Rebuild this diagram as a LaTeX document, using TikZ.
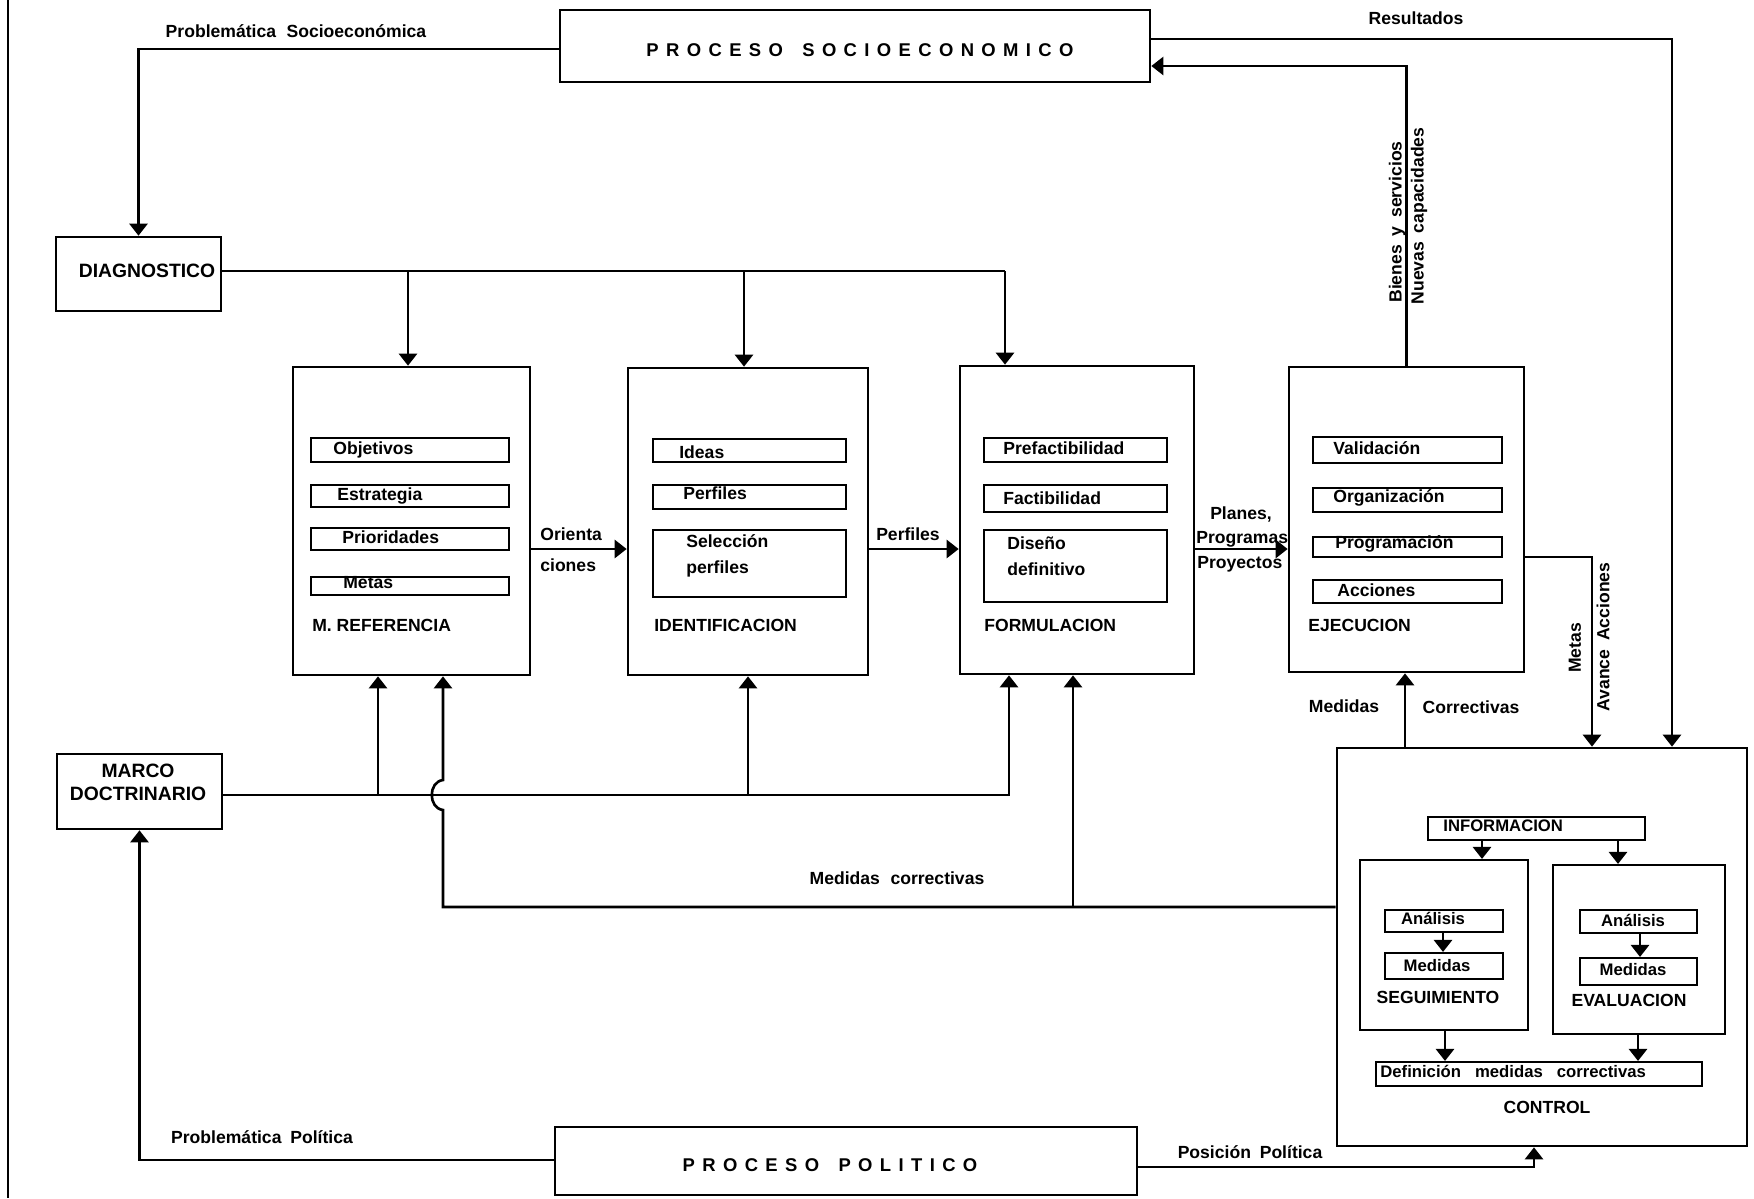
\documentclass[tikz,border=0pt]{standalone}
\usepackage{fontspec}
\setmainfont{Liberation Sans}
\newfontfamily\spacedfont[LetterSpace=40]{Liberation Sans}
\usetikzlibrary{arrows.meta,fit}
\begin{document}
\begin{tikzpicture}[x=0.02cm,y=-0.02cm,
  box/.style={draw,line width=1.5pt,inner sep=0pt},
  sub/.style={draw,line width=1.2pt,inner sep=0pt},
  txt/.style={inner sep=0pt,font=\bfseries\fontsize{10}{12}\selectfont},
  small/.style={inner sep=0pt,font=\bfseries\fontsize{9.5}{11}\selectfont},
  big/.style={inner sep=0pt,font=\bfseries\fontsize{11}{13}\selectfont},
  wide/.style={inner sep=0pt,font=\spacedfont\bfseries\fontsize{10.5}{12}\selectfont},
  ln/.style={line width=1.5pt},
  arr/.style={line width=1.5pt,-{Triangle[length=2.4mm,width=3.6mm]}},
]
\path[fill=white,use as bounding box] (0,0) rectangle (1754,1198);
\draw[ln] (8,0) -- (8,1198);

% top process
\node[box,fit={(560,10)(1150,82)}] (pse) {};
\node[wide] (pset) at (860,50) {PROCESO\hspace{11pt}SOCIOECONOMICO};

% diagnostico
\node[box,fit={(56,237)(221,311)}] (diag) {};
\node[big] (diagt) at (147,271) {DIAGNOSTICO};

% main boxes
\node[box,fit={(293,367)(530,675)}] (mref) {};
\node[box,fit={(628,368)(868,675)}] (ident) {};
\node[box,fit={(960,366)(1194,674)}] (form) {};
\node[box,fit={(1289,367)(1524,672)}] (ejec) {};

% M. referencia inner
\node[sub,fit={(311,438)(509,462)}] (obj) {};
\node[txt,anchor=west] (objt) at (333,450) {Objetivos};
\node[sub,fit={(311,485)(509,507)}] (est) {};
\node[txt,anchor=west] (estt) at (337,496) {Estrategia};
\node[sub,fit={(311,528)(509,550)}] (pri) {};
\node[txt,anchor=west] (prit) at (342,537) {Prioridades};
\node[sub,fit={(311,577)(509,595)}] (met) {};
\node[txt,anchor=west] (mett) at (343,583) {Metas};
\node[txt,anchor=west] (mreft) at (312,625) {M. REFERENCIA};

% Identificacion inner
\node[sub,fit={(653,439)(846,462)}] (ide) {};
\node[txt,anchor=west] (idet) at (679,452) {Ideas};
\node[sub,fit={(653,485)(846,509)}] (per) {};
\node[txt,anchor=west] (pert) at (683,493) {Perfiles};
\node[sub,fit={(653,530)(846,597)}] (sel) {};
\node[txt,anchor=west,align=left] (selt) at (686,556) {Selección\\[3pt]perfiles};
\node[txt,anchor=west] (identt) at (654,625) {IDENTIFICACION};

% Formulacion inner
\node[sub,fit={(984,438)(1167,462)}] (pre) {};
\node[txt,anchor=west] (pret) at (1003,448) {Prefactibilidad};
\node[sub,fit={(984,485)(1167,512)}] (fac) {};
\node[txt,anchor=west] (fact) at (1003,498) {Factibilidad};
\node[sub,fit={(984,530)(1167,602)}] (dis) {};
\node[txt,anchor=west,align=left] (dist) at (1007,556) {Diseño\\[3pt]definitivo};
\node[txt,anchor=west] (formt) at (984,625) {FORMULACION};

% Ejecucion inner
\node[sub,fit={(1313,437)(1502,463)}] (val) {};
\node[txt,anchor=west] (valt) at (1333,448) {Validación};
\node[sub,fit={(1313,488)(1502,512)}] (org) {};
\node[txt,anchor=west] (orgt) at (1333,498) {Organización};
\node[sub,fit={(1313,537)(1502,557)}] (prg) {};
\node[txt,anchor=west] (prgt) at (1335,544) {Programación};
\node[sub,fit={(1313,580)(1502,603)}] (acc) {};
\node[txt,anchor=west] (acct) at (1337,590) {Acciones};
\node[txt,anchor=west] (eject) at (1308,625) {EJECUCION};

% control
\node[box,fit={(1337,748)(1747,1146)}] (ctrl) {};
\node[sub,fit={(1428,817)(1645,840)}] (info) {};
\node[small,anchor=west] (infot) at (1443,826) {INFORMACION};
\node[sub,fit={(1360,860)(1528,1030)}] (seg) {};
\node[sub,fit={(1553,865)(1725,1034)}] (eval) {};
\node[sub,fit={(1385,910)(1503,932)}] (sana) {};
\node[small] (sanat) at (1433,918) {Análisis};
\node[sub,fit={(1385,953)(1503,979)}] (smed) {};
\node[small] (smedt) at (1437,966) {Medidas};
\node[txt] (segt) at (1438,997) {SEGUIMIENTO};
\node[sub,fit={(1580,910)(1697,933)}] (eana) {};
\node[small] (eanat) at (1633,920) {Análisis};
\node[sub,fit={(1580,958)(1697,985)}] (emed) {};
\node[small] (emedt) at (1633,970) {Medidas};
\node[txt] (evalt) at (1629,1000) {EVALUACION};
\node[sub,fit={(1376,1062)(1702,1086)}] (def) {};
\node[small,anchor=west] (deft) at (1380,1071) {Definición\hspace{8pt}medidas\hspace{8pt}correctivas};
\node[txt] (ctrlt) at (1547,1107) {CONTROL};

\draw[arr] (1482,0 |- info.south) -- (1482,0 |- seg.north);
\draw[arr] (1618,0 |- info.south) -- (1618,0 |- eval.north);
\draw[arr] (1443,0 |- sana.south) -- (1443,0 |- smed.north);
\draw[arr] (1640,0 |- eana.south) -- (1640,0 |- emed.north);
\draw[arr] (1445,0 |- seg.south) -- (1445,0 |- def.north);
\draw[arr] (1638,0 |- eval.south) -- (1638,0 |- def.north);

% marco doctrinario
\node[box,fit={(57,754)(222,829)}] (marco) {};
\node[big,align=center] (marcot) at (138,782) {MARCO\\DOCTRINARIO};

% proceso politico
\node[box,fit={(555,1127)(1137,1195)}] (ppol) {};
\node[wide] (ppolt) at (830,1165) {PROCESO\hspace{11pt}POLITICO};

% connectors
\draw[arr] (pse.west |- 0,49) -| (diag.north);
\node[txt] (l1) at (296,31) {Problemática\hspace{6pt}Socioeconómica};

\draw[ln] (diag.east |- 0,271) -- (1005,271);
\draw[arr] (408,271) -- (408,0 |- mref.north);
\draw[arr] (744,271) -- (744,0 |- ident.north);
\draw[arr] (1005,271) -- (1005,0 |- form.north);

\draw[arr] (mref.east |- 0,549) -- (ident.west |- 0,549);
\node[txt,anchor=west] (l2) at (540,534) {Orienta};
\node[txt,anchor=west] (l3) at (540,565) {ciones};
\draw[arr] (ident.east |- 0,549) -- (form.west |- 0,549);
\node[txt] (l4) at (908,534) {Perfiles};
\draw[arr] (form.east |- 0,549) -- (ejec.west |- 0,549);
\node[txt] (l5) at (1241,514) {Planes,};
\node[txt,anchor=west] (l6) at (1196,539) {Programas};
\node[txt,anchor=west] (l7) at (1197,564) {Proyectos};

\draw[arr] (ejec.north) |- (pse.east |- 0,66);
\node[txt,rotate=90] (l8) at (1397,222) {Bienes\hspace{5pt}y\hspace{5pt}servicios};
\node[txt,rotate=90] (l9) at (1419,216) {Nuevas\hspace{5pt}capacidades};

\draw[arr] (pse.east |- 0,39) -| (1672,0 |- ctrl.north);
\node[txt] (l10) at (1416,18) {Resultados};

\draw[arr] (ejec.east |- 0,557) -| (1592,0 |- ctrl.north);
\node[txt,rotate=90] (l11) at (1575,648) {Metas};
\node[txt,rotate=90] (l12) at (1603,637) {Avance\hspace{5pt}Acciones};

\draw[arr] (1405,0 |- ctrl.north) -- (1405,0 |- ejec.south);
\node[txt] (l13) at (1344,706) {Medidas};
\node[txt] (l14) at (1471,707) {Correctivas};

\coordinate (mc) at (1073,907);
\draw[arr] (ctrl.west |- 0,907) -- (443,907) -- (443,810)
  .. controls (428,808) and (428,782) .. (443,780) -- (443,0 |- mref.south);
\draw[arr] (mc) -- (1073,0 |- form.south);
\node[txt] (l15) at (897,878) {Medidas\hspace{6pt}correctivas};

\draw[arr] (marco.east |- 0,795) -| (1009,0 |- form.south);
\draw[arr] (378,795) -- (378,0 |- mref.south);
\draw[arr] (ident.south |- 0,795) -- (ident.south);

\draw[arr] (ppol.west |- 0,1160) -| (marco.south);
\node[txt] (l16) at (262,1137) {Problemática\hspace{5pt}Política};

\draw[arr] (ppol.east |- 0,1167) -| (1534,0 |- ctrl.south);
\node[txt] (l17) at (1250,1152) {Posición\hspace{5pt}Política};
\end{tikzpicture}
\end{document}
